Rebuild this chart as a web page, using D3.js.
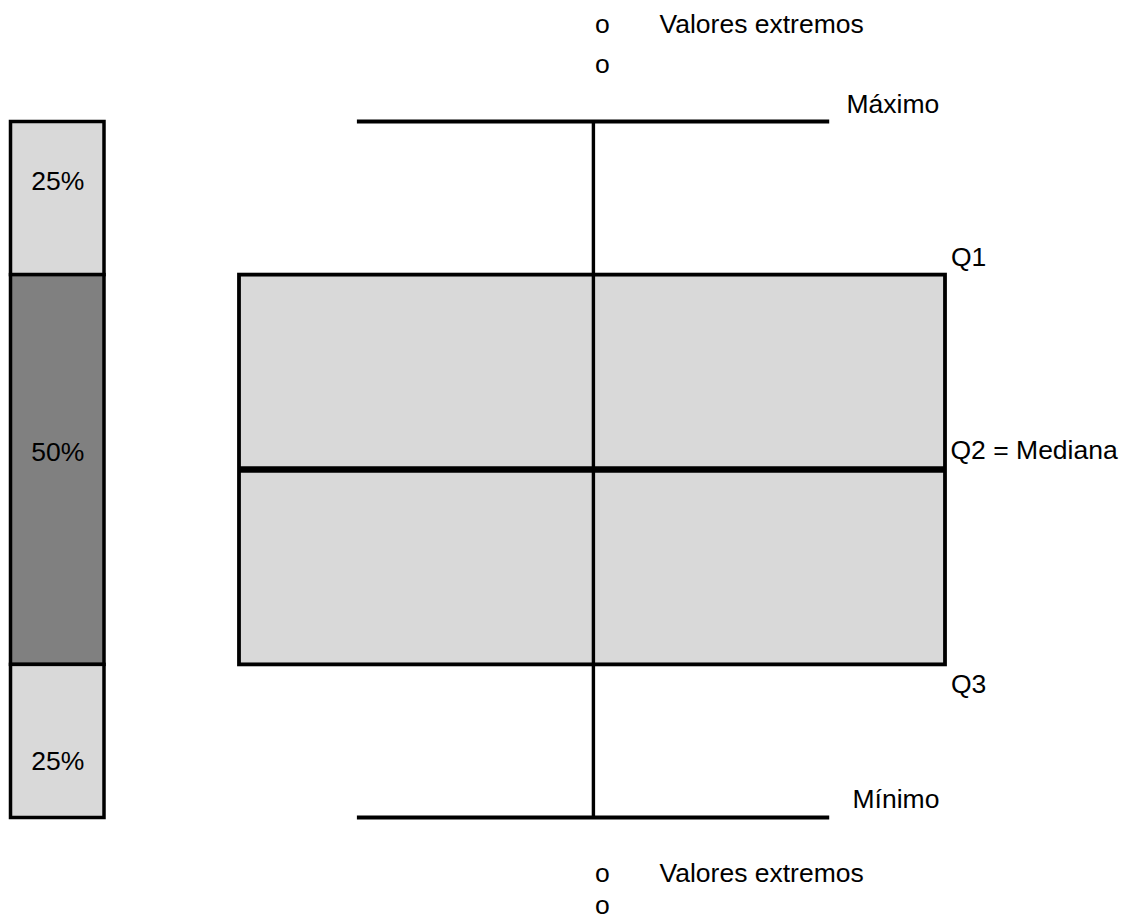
<!DOCTYPE html>
<html>
<head>
<meta charset="utf-8">
<script src="https://cdn.jsdelivr.net/npm/d3@7"></script>
<style>
  html, body { margin: 0; padding: 0; background: #ffffff; }
  svg { display: block; }
  text { font-family: "Liberation Sans", Arial, sans-serif; font-size: 26.5px; fill: #000; }
</style>
</head>
<body>
<svg id="chart" width="1122" height="922"></svg>
<script>
// ---- data ----
const statNames = ["Máximo", "Q1", "Q2 = Mediana", "Q3", "Mínimo"];
const statValues = [100, 78, 50, 22, 0];
const bandLabels = ["25%", "50%", "25%"];
const bandShades = ["light", "dark", "light"];
const outlierLabel = "Valores extremos";
const outlierValuesTop = [112.7, 107.0];
const outlierValuesBottom = [-9.3, -13.8];

// ---- layout ----
const svg = d3.select("#chart");
const y = d3.scaleLinear().domain([0, 100]).range([817.5, 121.5]);
const x = d3.scaleLinear().domain([0, 1]).range([239, 945]);
const xMid = x(0.502);
const capLeft = x(0.167), capRight = x(0.836);
const barX0 = 10.5, barX1 = 104;
const fills = { light: "#d9d9d9", dark: "#808080" };
const bandTextFrac = [0.446, 0.477, 0.69];

const [vMax, vQ1, vMed, vQ3, vMin] = statValues;

// left percentage bar
const bandEdges = [vMax, vQ1, vQ3, vMin];
const bands = bandLabels.map((l, i) => ({ label: l, shade: bandShades[i], top: bandEdges[i], bottom: bandEdges[i + 1], frac: bandTextFrac[i] }));
const gBar = svg.append("g");
gBar.selectAll("rect").data(bands).join("rect")
  .attr("x", barX0).attr("width", barX1 - barX0)
  .attr("y", d => y(d.top)).attr("height", d => y(d.bottom) - y(d.top))
  .attr("fill", d => fills[d.shade])
  .attr("stroke", "#000").attr("stroke-width", 3.5);
gBar.selectAll("text").data(bands).join("text")
  .attr("x", (barX0 + barX1) / 2 + 0.5)
  .attr("y", d => y(d.top) + d.frac * (y(d.bottom) - y(d.top)))
  .attr("text-anchor", "middle")
  .text(d => d.label);

// box
const g = svg.append("g");
g.append("rect")
  .attr("x", x(0)).attr("width", x(1) - x(0))
  .attr("y", y(vQ1)).attr("height", y(vQ3) - y(vQ1))
  .attr("fill", fills.light).attr("stroke", "#000").attr("stroke-width", 3.8);

// whisker vertical line through box
g.append("line")
  .attr("x1", xMid).attr("x2", xMid)
  .attr("y1", y(vMax)).attr("y2", y(vMin))
  .attr("stroke", "#000").attr("stroke-width", 3.4);

// caps
[vMax, vMin].forEach(v => {
  g.append("line")
    .attr("x1", capLeft).attr("x2", capRight)
    .attr("y1", y(v)).attr("y2", y(v))
    .attr("stroke", "#000").attr("stroke-width", 3.8);
});

// median
g.append("line")
  .attr("x1", x(0)).attr("x2", x(1))
  .attr("y1", y(vMed)).attr("y2", y(vMed))
  .attr("stroke", "#000").attr("stroke-width", 6.5);

// stat labels
const labelPos = [
  { name: statNames[0], x: 846.5, y: y(vMax) - 8.5 },
  { name: statNames[1], x: 951, y: y(vQ1) - 8.5 },
  { name: statNames[2], x: 950.5, y: y(vMed) - 11 },
  { name: statNames[3], x: 951, y: y(vQ3) + 29 },
  { name: statNames[4], x: 852.5, y: y(vMin) - 9.5 }
];
g.selectAll("text.stat").data(labelPos).join("text")
  .attr("class", "stat")
  .attr("x", d => d.x).attr("y", d => d.y)
  .text(d => d.name);

// outliers
const outliers = [
  { v: outlierValuesTop[0], label: true },
  { v: outlierValuesTop[1], label: false },
  { v: outlierValuesBottom[0], label: true },
  { v: outlierValuesBottom[1], label: false }
];
const go = svg.append("g");
outliers.forEach(o => {
  go.append("text").attr("x", xMid + 1.5).attr("y", y(o.v)).text("o");
  if (o.label) go.append("text").attr("x", 659.5).attr("y", y(o.v)).text(outlierLabel);
});
</script>
</body>
</html>
